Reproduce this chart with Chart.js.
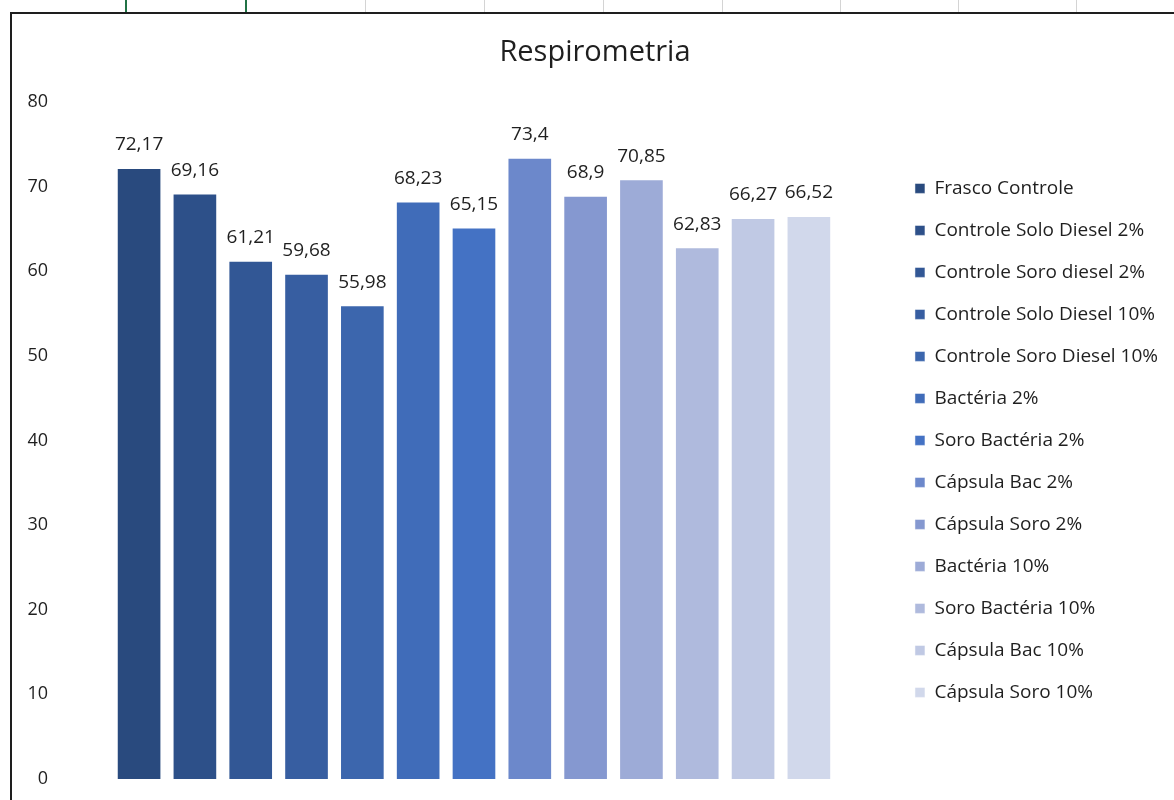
<!DOCTYPE html>
<html>
<head>
<meta charset="utf-8">
<script src="https://cdn.jsdelivr.net/npm/chart.js@4"></script>
<style>
  body { margin: 0; background: #fff; width: 1174px; height: 800px; overflow: hidden; position: relative; }
  .grid { position: absolute; top: 0; width: 1px; height: 12px; background: #d4d4d4; }
  .grid.sel { background: #217346; width: 2px; }
  #frame { position: absolute; left: 10px; top: 12px; width: 1164px; height: 788px;
           border-left: 2px solid #1e1e1e; border-top: 2px solid #1e1e1e; }
  #wrap { position: absolute; left: 0; top: 0; width: 1162px; height: 786px; }
</style>
</head>
<body>
<div class="grid sel" style="left:125px"></div>
<div class="grid sel" style="left:245px"></div>
<div class="grid" style="left:365px"></div>
<div class="grid" style="left:484px"></div>
<div class="grid" style="left:603px"></div>
<div class="grid" style="left:722px"></div>
<div class="grid" style="left:840px"></div>
<div class="grid" style="left:958px"></div>
<div class="grid" style="left:1076px"></div>
<div id="frame">
  <div id="wrap"><canvas id="barCanvas" width="1162" height="786"></canvas></div>
</div>
<script>
const series = [
    "Frasco Controle",
    "Controle Solo Diesel 2%",
    "Controle Soro diesel 2%",
    "Controle Solo Diesel 10%",
    "Controle Soro Diesel 10%",
    "Bactéria 2%",
    "Soro Bactéria 2%",
    "Cápsula Bac 2%",
    "Cápsula Soro 2%",
    "Bactéria 10%",
    "Soro Bactéria 10%",
    "Cápsula Bac 10%",
    "Cápsula Soro 10%"
];
const values = [72.17, 69.16, 61.21, 59.68, 55.98, 68.23, 65.15, 73.4, 68.9, 70.85, 62.83, 66.27, 66.52];
const colors = [
    "#294a7e", "#2d5089", "#325795", "#375ea1", "#3c66ad", "#406cb9", "#4472c4",
    "#6c88cb", "#8598d0", "#9dabd7", "#afbadd", "#c0c9e4", "#d1d8eb"
];
const categories = [""];
const yMax = 80;
const yStep = 10;

const textColor = "#1f1f1f";
const fontFamily = "'Open Sans', Lato, sans-serif";

// value labels above each bar, decimal comma
const barValues = {
    id: "barValues",
    afterDatasetsDraw(chart) {
        const ctx = chart.ctx;
        ctx.save();
        ctx.font = "19px " + fontFamily;
        ctx.fillStyle = textColor;
        ctx.textAlign = "center";
        ctx.textBaseline = "middle";
        chart.data.datasets.forEach((ds, i) => {
            const meta = chart.getDatasetMeta(i);
            meta.data.forEach((bar, j) => {
                const txt = String(ds.data[j]).replace(".", ",");
                ctx.fillText(txt, bar.x, bar.y - 23);
            });
        });
        ctx.restore();
    }
};

const barCanvas = document.getElementById("barCanvas");

const barChart = new Chart(barCanvas, {
    type: "bar",
    data: {
        labels: categories,
        datasets: series.map((name, i) => ({
            label: name,
            data: [values[i]],
            backgroundColor: colors[i],
            borderColor: "rgba(255,255,255,0.5)",
            borderWidth: 1,
            barPercentage: 0.8,
            categoryPercentage: 0.868
        }))
    },
    options: {
        responsive: false,
        animation: false,
        layout: {
            padding: { left: 10, right: 6, top: 0, bottom: 21 }
        },
        plugins: {
            title: {
                display: true,
                text: "Respirometria",
                color: textColor,
                font: { family: fontFamily, size: 29, weight: "normal" },
                padding: { top: 21, bottom: 32 }
            },
            legend: {
                position: "right",
                fullSize: false,
                labels: {
                    boxWidth: 10,
                    boxHeight: 10,
                    padding: 23,
                    color: textColor,
                    font: { family: fontFamily, size: 19 }
                }
            },
            tooltip: { enabled: false }
        },
        scales: {
            x: {
                display: false
            },
            y: {
                min: 0,
                max: yMax,
                ticks: {
                    stepSize: yStep,
                    padding: 8,
                    color: textColor,
                    font: { family: fontFamily, size: 18 }
                },
                grid: { display: false, drawTicks: false },
                border: { display: false },
                afterFit(scale) { scale.width = 34; }
            }
        }
    },
    plugins: [barValues]
});
</script>
</body>
</html>
